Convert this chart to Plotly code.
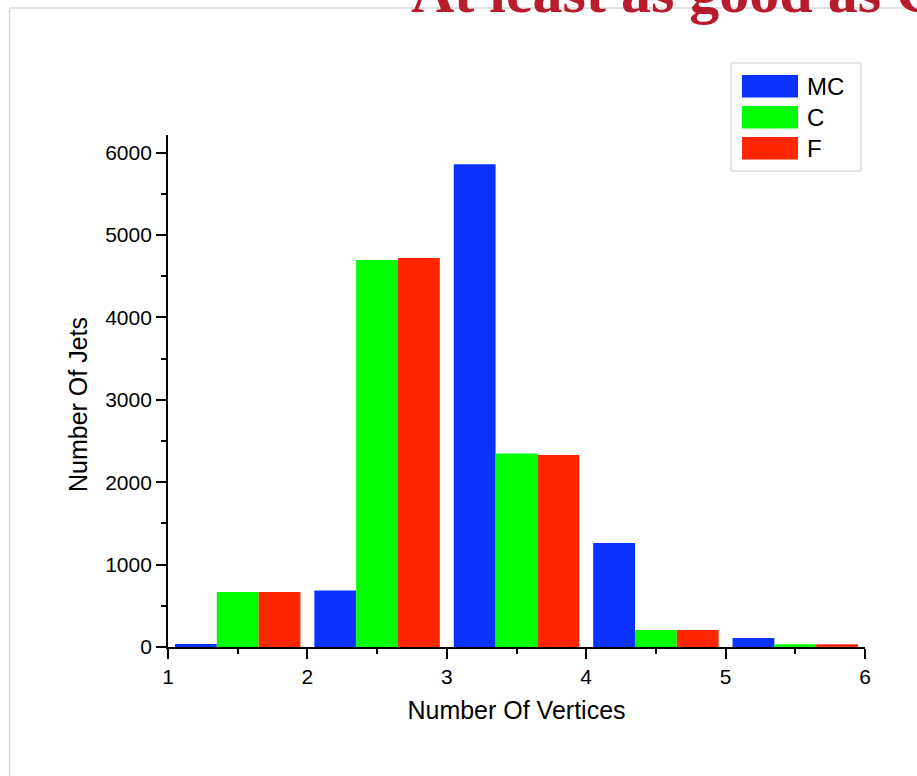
import plotly.graph_objects as go

# Jet counts per number of reconstructed vertices, one list per sample
vertex_bins = [1.5, 2.5, 3.5, 4.5, 5.5]
series_names = ["MC", "C", "F"]
mc_jets = [36, 685, 5860, 1262, 110]
c_jets = [668, 4697, 2347, 206, 33]
f_jets = [668, 4721, 2330, 206, 33]
x_tick_values = [1, 2, 3, 4, 5, 6]
y_tick_values = [0, 1000, 2000, 3000, 4000, 5000, 6000]

series_values = [mc_jets, c_jets, f_jets]
series_colors = ["#0A32FF", "#00FF00", "#FF2600"]

# Page geometry (pixels)
W, H = 917, 776
ML, MR, MT, MB = 168, 52, 135, 129
PW, PH = W - ML - MR, H - MT - MB


def px_x(px):
    return (px - ML) / PW


def px_y(py):
    return (H - MB - py) / PH


SANS = "Liberation Sans, Arial, sans-serif"

fig = go.Figure()
for name, values, color in zip(series_names, series_values, series_colors):
    fig.add_trace(go.Bar(
        x=vertex_bins, y=values, name=name,
        marker=dict(color=color, line=dict(width=0)),
    ))

axis_common = dict(
    showline=True, linecolor="black", linewidth=1.8,
    ticks="outside", ticklen=10, tickwidth=1.8, tickcolor="black",
    showgrid=False, zeroline=False,
    tickfont=dict(family=SANS, size=21, color="black"),
)

fig.update_xaxes(
    range=[1, 6], tickvals=x_tick_values,
    minor=dict(ticks="outside", ticklen=5, tickwidth=1.8, tickcolor="black",
               dtick=0.5, tick0=1, showgrid=False),
    title=dict(text="Number Of Vertices", font=dict(family=SANS, size=25, color="black"),
               standoff=14),
    **axis_common,
)
fig.update_yaxes(
    range=[0, 6214], tickvals=y_tick_values,
    minor=dict(ticks="outside", ticklen=5, tickwidth=1.8, tickcolor="black",
               dtick=500, tick0=0, showgrid=False),
    **axis_common,
)

shapes = []
annotations = []

# Slide frame lines
frame_color = "#d9d9d9"
shapes.append(dict(type="line", xref="paper", yref="paper",
                   x0=px_x(9.5), y0=px_y(H), x1=px_x(9.5), y1=px_y(8),
                   line=dict(color=frame_color, width=1.5)))
shapes.append(dict(type="line", xref="paper", yref="paper",
                   x0=px_x(9.5), y0=px_y(8), x1=px_x(W + 5), y1=px_y(8),
                   line=dict(color=frame_color, width=1.5)))

# Slide heading
annotations.append(dict(
    text="<b>At least as good as C</b>", xref="paper", yref="paper",
    x=px_x(409), y=px_y(27), xanchor="left", yanchor="bottom",
    showarrow=False, font=dict(family="Liberation Serif, Times New Roman, serif",
                               size=60, color="#B71C2C"),
))

# Y axis title
annotations.append(dict(
    text="Number Of Jets", xref="paper", yref="paper",
    x=px_x(78), y=px_y(405), xanchor="center", yanchor="middle",
    textangle=-90, showarrow=False,
    font=dict(family=SANS, size=25, color="black"),
))

# Legend box with wide swatches
shapes.append(dict(type="rect", xref="paper", yref="paper",
                   x0=px_x(731), y0=px_y(171), x1=px_x(861), y1=px_y(63),
                   line=dict(color="#cccccc", width=1), fillcolor="white"))
swatch_tops = [75, 106, 137]
for name, color, top in zip(series_names, series_colors, swatch_tops):
    shapes.append(dict(type="rect", xref="paper", yref="paper",
                       x0=px_x(742), y0=px_y(top + 22.5), x1=px_x(798), y1=px_y(top),
                       line=dict(width=0), fillcolor=color))
    annotations.append(dict(
        text=name, xref="paper", yref="paper",
        x=px_x(805), y=px_y(top + 11), xanchor="left", yanchor="middle",
        showarrow=False, font=dict(family=SANS, size=24, color="black"),
    ))

fig.update_layout(
    width=W, height=H,
    margin=dict(l=ML, r=MR, t=MT, b=MB, pad=0),
    paper_bgcolor="white", plot_bgcolor="white",
    barmode="group", bargap=0.1, bargroupgap=0,
    showlegend=False,
    shapes=shapes, annotations=annotations,
)

fig.write_html("out.html")
